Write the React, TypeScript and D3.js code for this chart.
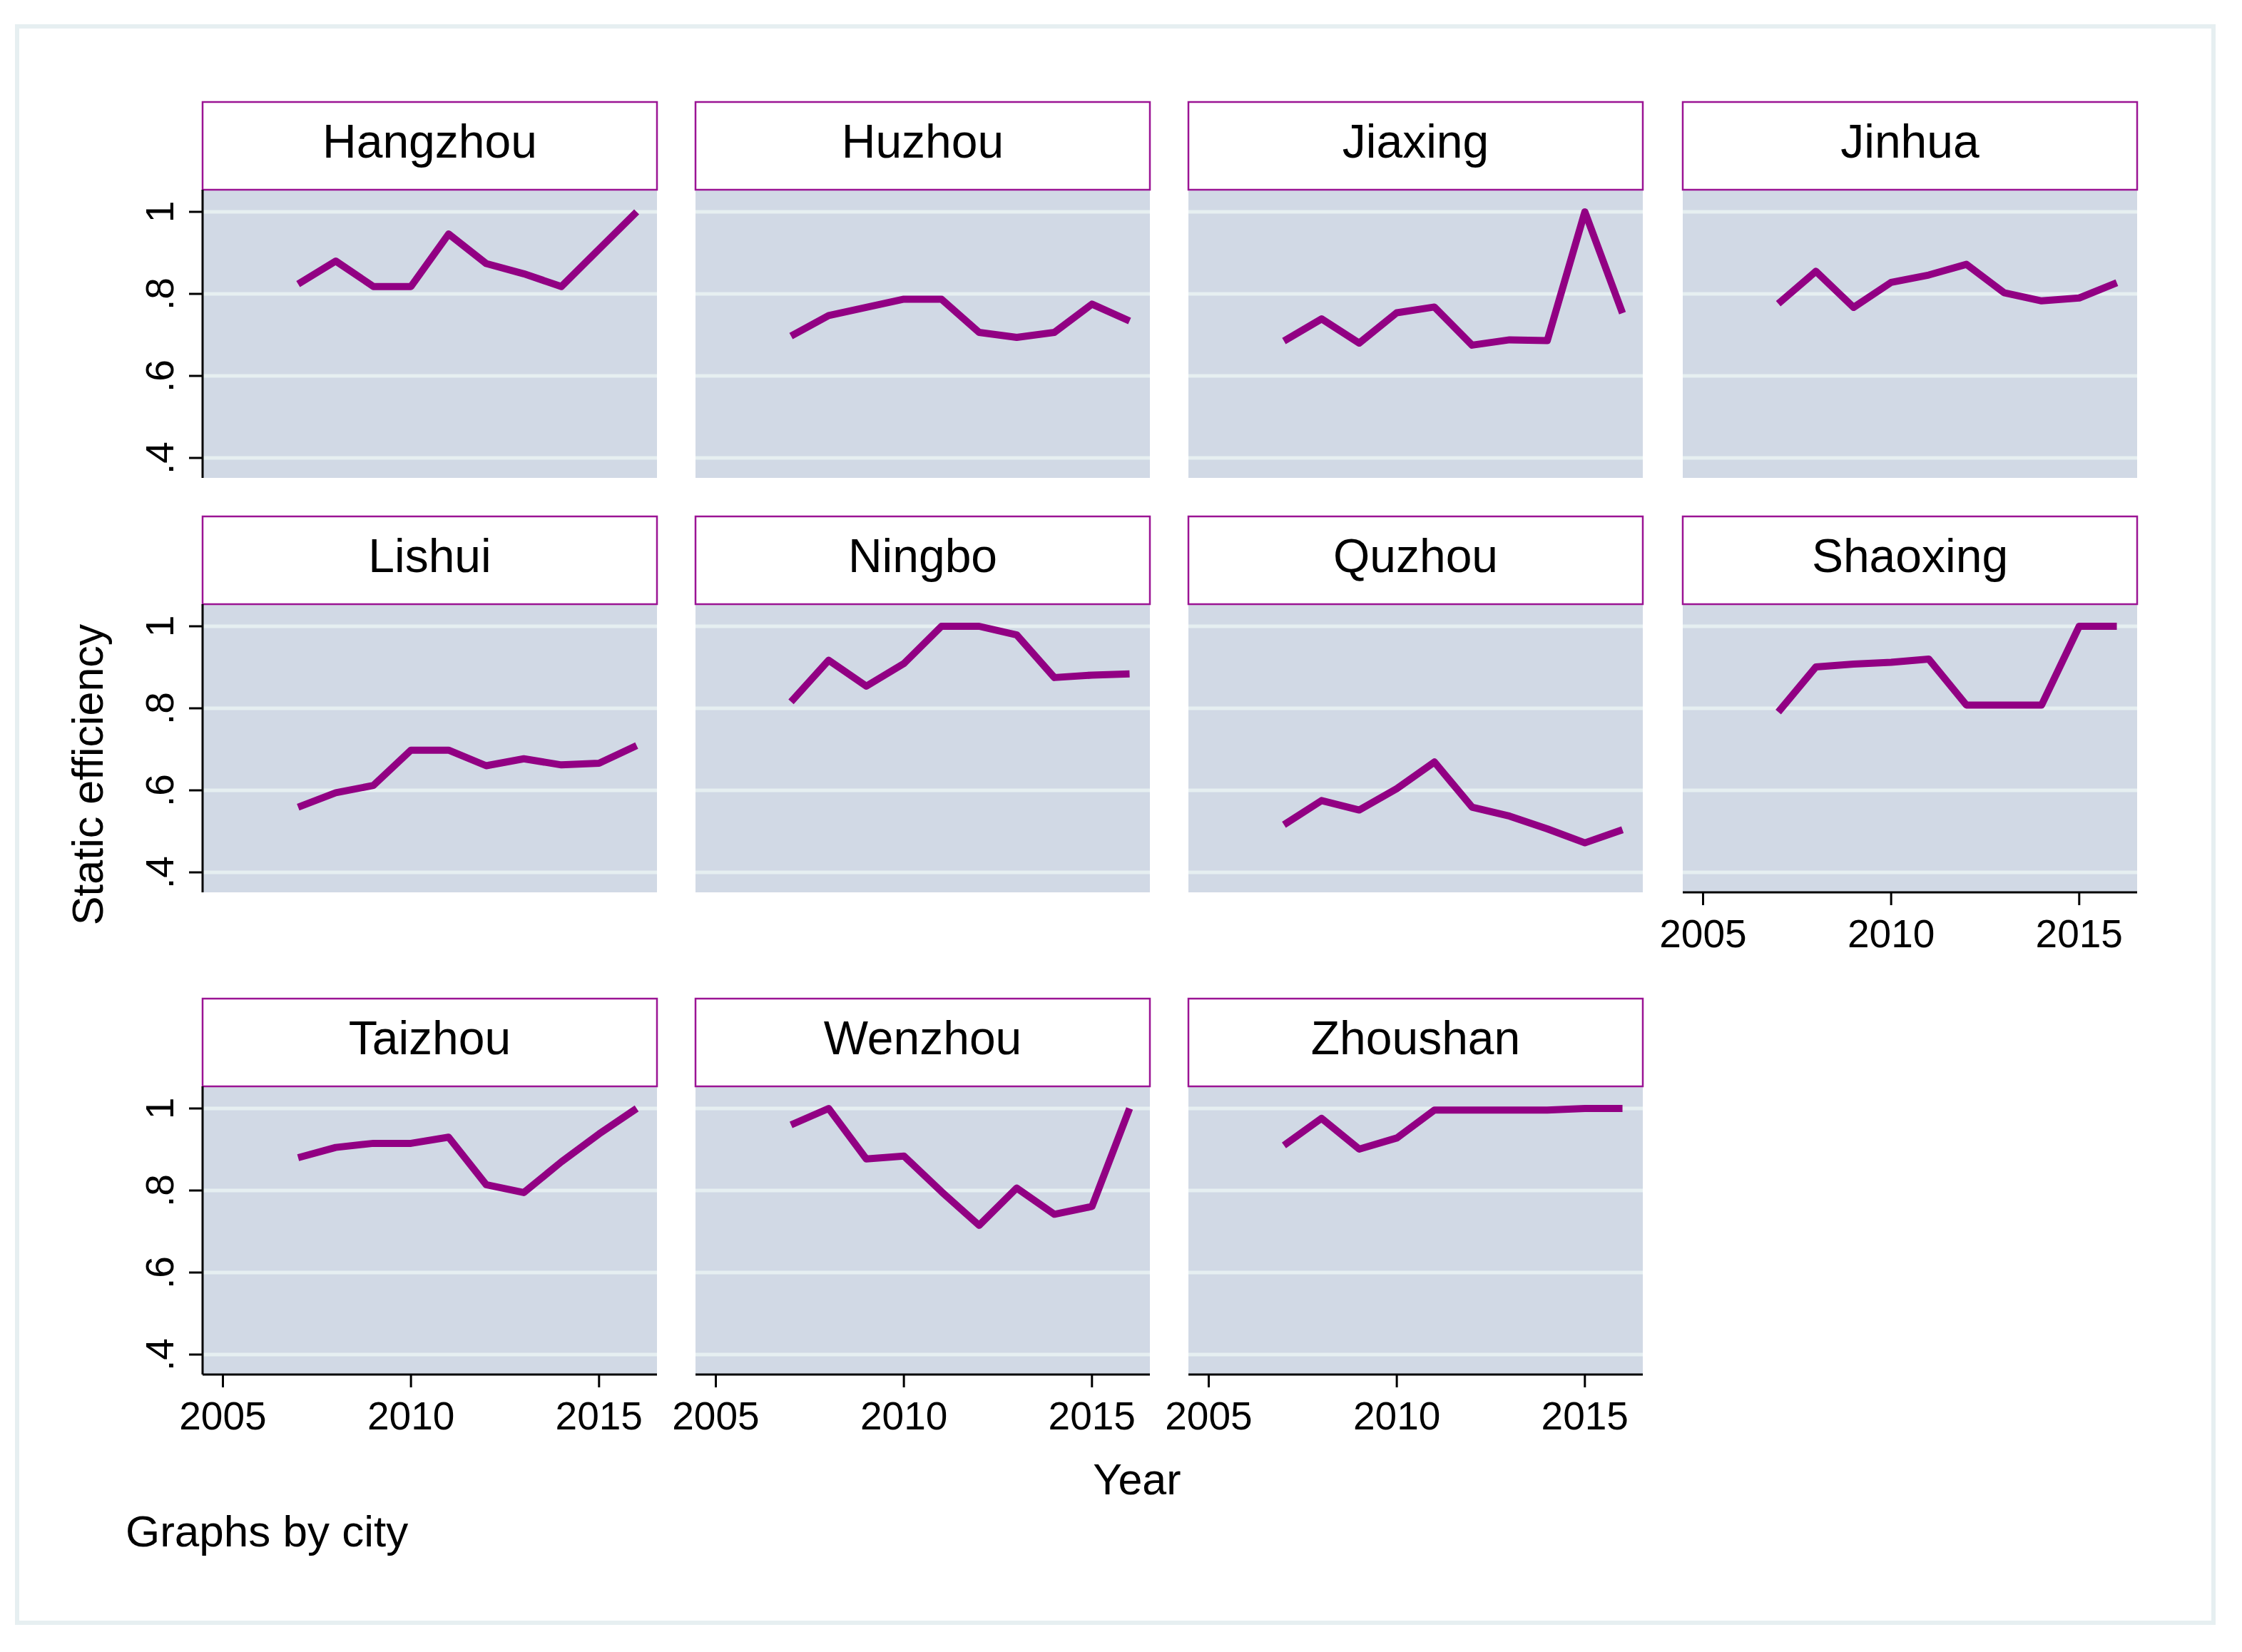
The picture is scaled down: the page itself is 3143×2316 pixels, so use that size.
import React, { useEffect, useRef } from 'react'
import * as d3 from 'd3'

// values, one array per city (2007..2016)
const years = [2007, 2008, 2009, 2010, 2011, 2012, 2013, 2014, 2015, 2016]
const cities = [
  'Hangzhou', 'Huzhou', 'Jiaxing', 'Jinhua',
  'Lishui', 'Ningbo', 'Quzhou', 'Shaoxing',
  'Taizhou', 'Wenzhou', 'Zhoushan',
]
const hangzhou = [0.824, 0.88, 0.818, 0.818, 0.946, 0.874, 0.849, 0.818, 0.909, 1.0]
const huzhou = [0.697, 0.747, 0.767, 0.787, 0.787, 0.706, 0.694, 0.706, 0.775, 0.734]
const jiaxing = [0.685, 0.739, 0.68, 0.754, 0.768, 0.675, 0.688, 0.686, 1.0, 0.753]
const jinhua = [0.776, 0.855, 0.767, 0.828, 0.846, 0.872, 0.803, 0.783, 0.79, 0.827]
const lishui = [0.559, 0.594, 0.612, 0.698, 0.698, 0.66, 0.677, 0.662, 0.666, 0.709]
const ningbo = [0.816, 0.917, 0.854, 0.909, 1.0, 1.0, 0.979, 0.875, 0.881, 0.884]
const quzhou = [0.516, 0.575, 0.552, 0.604, 0.669, 0.559, 0.537, 0.506, 0.472, 0.504]
const shaoxing = [0.791, 0.901, 0.908, 0.912, 0.92, 0.808, 0.808, 0.808, 1.0, 1.0]
const taizhou = [0.88, 0.905, 0.915, 0.915, 0.93, 0.814, 0.795, 0.87, 0.938, 1.0]
const wenzhou = [0.96, 1.0, 0.877, 0.884, 0.797, 0.715, 0.806, 0.742, 0.761, 1.0]
const zhoushan = [0.91, 0.976, 0.901, 0.928, 0.996, 0.996, 0.996, 0.996, 1.0, 1.0]

const yTicks = [0.4, 0.6, 0.8, 1]
const yTickLabels = ['.4', '.6', '.8', '1']
const xTicks = [2005, 2010, 2015]

const seriesByCity: Record<string, number[]> = {
  Hangzhou: hangzhou, Huzhou: huzhou, Jiaxing: jiaxing, Jinhua: jinhua,
  Lishui: lishui, Ningbo: ningbo, Quzhou: quzhou, Shaoxing: shaoxing,
  Taizhou: taizhou, Wenzhou: wenzhou, Zhoushan: zhoushan,
}

export default function App() {
  const ref = useRef<SVGSVGElement>(null)

  useEffect(() => {
    const W = 3143
    const H = 2316
    const font = '"Liberation Sans", Arial, Helvetica, sans-serif'
    const lineColor = '#920083'
    const headerStroke = '#9b1494'
    const plotBg = '#d1d9e5'
    const gridColor = '#e6eff1'

    const colLeft = [284, 975, 1666, 2359]
    const headerTop = [143, 724, 1400]
    const headerH = 123
    const plotH = 404
    const panelW = 637
    const ncol = 4

    const svg = d3.select(ref.current)
    svg.selectAll('*').remove()
    svg.attr('width', W).attr('height', H)

    svg.append('rect').attr('width', W).attr('height', H).attr('fill', '#fff')
    // outer frame
    svg
      .append('rect')
      .attr('x', 24)
      .attr('y', 37)
      .attr('width', 3103 - 24)
      .attr('height', 2275 - 37)
      .attr('fill', 'none')
      .attr('stroke', gridColor)
      .attr('stroke-width', 6)

    cities.forEach((city, i) => {
      const col = i % ncol
      const row = Math.floor(i / ncol)
      const left = colLeft[col]
      const top = headerTop[row] + headerH
      const bottom = top + plotH

      const x = d3.scaleLinear().domain([2004.46, 2016.54]).range([left, left + panelW])
      const y = d3.scaleLinear().domain([0.4, 1]).range([top + 376, top + 31])

      const g = svg.append('g').attr('class', 'panel')

      g.append('rect')
        .attr('x', left)
        .attr('y', top)
        .attr('width', panelW)
        .attr('height', plotH)
        .attr('fill', plotBg)

      g.selectAll('.grid')
        .data(yTicks)
        .enter()
        .append('line')
        .attr('x1', left)
        .attr('x2', left + panelW)
        .attr('y1', (d) => y(d))
        .attr('y2', (d) => y(d))
        .attr('stroke', gridColor)
        .attr('stroke-width', 5)

      const line = d3
        .line<number>()
        .x((_, j) => x(years[j]))
        .y((d) => y(d))

      g.append('path')
        .attr('d', line(seriesByCity[city]) as string)
        .attr('fill', 'none')
        .attr('stroke', lineColor)
        .attr('stroke-width', 10)
        .attr('stroke-linejoin', 'round')

      // header strip
      g.append('rect')
        .attr('x', left)
        .attr('y', headerTop[row])
        .attr('width', panelW)
        .attr('height', headerH)
        .attr('fill', '#fff')
        .attr('stroke', headerStroke)
        .attr('stroke-width', 2.5)

      g.append('text')
        .attr('x', left + panelW / 2)
        .attr('y', headerTop[row] + 78)
        .attr('text-anchor', 'middle')
        .attr('font-family', font)
        .attr('font-size', 66)
        .attr('fill', '#000')
        .text(city)

      // y axis on the first column
      if (col === 0) {
        g.append('line')
          .attr('x1', left)
          .attr('x2', left)
          .attr('y1', top)
          .attr('y2', bottom)
          .attr('stroke', '#000')
          .attr('stroke-width', 3)
        yTicks.forEach((t, k) => {
          g.append('line')
            .attr('x1', left - 19)
            .attr('x2', left)
            .attr('y1', y(t))
            .attr('y2', y(t))
            .attr('stroke', '#000')
            .attr('stroke-width', 3)
          g.append('text')
            .attr('transform', `translate(${left - 41},${y(t)}) rotate(-90)`)
            .attr('text-anchor', 'middle')
            .attr('font-family', font)
            .attr('font-size', 55)
            .attr('fill', '#000')
            .text(yTickLabels[k])
        })
      }

      // x axis on the last panel of each column
      if (i + ncol >= cities.length) {
        g.append('line')
          .attr('x1', left)
          .attr('x2', left + panelW)
          .attr('y1', bottom)
          .attr('y2', bottom)
          .attr('stroke', '#000')
          .attr('stroke-width', 3)
        xTicks.forEach((t) => {
          g.append('line')
            .attr('x1', x(t))
            .attr('x2', x(t))
            .attr('y1', bottom)
            .attr('y2', bottom + 18)
            .attr('stroke', '#000')
            .attr('stroke-width', 3)
          g.append('text')
            .attr('x', x(t))
            .attr('y', bottom + 77)
            .attr('text-anchor', 'middle')
            .attr('font-family', font)
            .attr('font-size', 55)
            .attr('fill', '#000')
            .text(String(t))
        })
      }
    })

    svg
      .append('text')
      .attr('transform', 'translate(144,1086) rotate(-90)')
      .attr('text-anchor', 'middle')
      .attr('font-family', font)
      .attr('font-size', 61)
      .attr('fill', '#000')
      .text('Static efficiency')

    svg
      .append('text')
      .attr('x', 1594)
      .attr('y', 2095)
      .attr('text-anchor', 'middle')
      .attr('font-family', font)
      .attr('font-size', 61)
      .attr('fill', '#000')
      .text('Year')

    svg
      .append('text')
      .attr('x', 176)
      .attr('y', 2168)
      .attr('font-family', font)
      .attr('font-size', 62)
      .attr('fill', '#000')
      .text('Graphs by city')
  }, [])

  return (
    <svg
      ref={ref}
      style={{ position: 'absolute', left: 0, top: 0, display: 'block' }}
    />
  )
}
